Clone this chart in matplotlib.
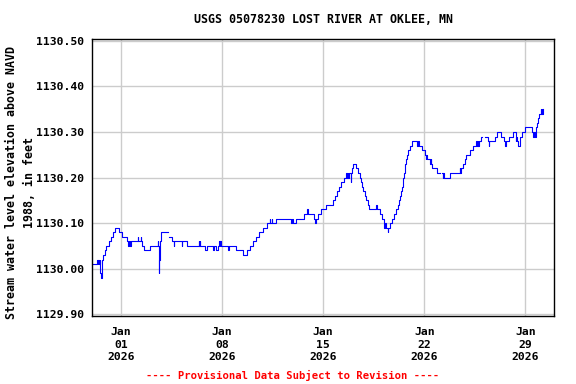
import matplotlib

matplotlib.use("Agg")
import matplotlib.pyplot as plt
import numpy as np
import pandas as pd

# gage height readings, days after 2026-01-01 00:00 (NaN = gap in record)
day_offset = [
    -1.97, -1.69, -1.62, -1.57, -1.52, -1.48, -1.43, -1.39, -1.33, -1.23,
    -1.14, -1.04, -0.86, -0.67, -0.58, -0.39, -0.12, 0.07, 0.44, 0.50,
    0.55, 0.60, 0.66, 1.17, 1.20, 1.35, 1.38, 1.44, 1.60, 2.02,
    2.53, 2.57, 2.60, 2.64, 2.71, 2.78, 3.25, 3.29, 3.53, 3.66,
    3.69, 4.21, 4.24, 4.57, 5.38, 5.42, 5.46, 5.50, 5.85, 5.96,
    6.37, 6.46, 6.60, 6.71, 6.78, 6.83, 6.88, 6.93, 7.41, 7.45,
    7.93, 8.44, 8.70, 8.93, 9.16, 9.32, 9.56, 9.86, 10.09, 10.29,
    10.32, 10.45, 10.48, 10.72, 11.76, 11.86, 11.90, 12.11, 12.69, 12.90,
    12.94, 13.38, 13.45, 13.48, 13.62, 13.85, 14.18, 14.68, 14.80, 14.96,
    15.10, 15.26, 15.42, 15.61, 15.65, 15.70, 15.75, 15.80, 15.93, 15.96,
    16.00, 16.07, 16.30, 16.41, 16.53, 16.65, 16.70, 16.76, 16.88, 16.99,
    17.11, 17.18, 17.68, 17.71, 17.92, 18.10, 18.19, 18.25, 18.28, 18.33,
    18.48, 18.51, 18.61, 18.75, 18.89, 19.02, 19.16, 19.25, 19.35, 19.42,
    19.47, 19.51, 19.55, 19.60, 19.65, 19.70, 19.76, 19.81, 19.88, 19.99,
    20.15, 20.50, 20.60, 20.63, 20.87, 21.03, 21.10, 21.14, 21.20, 21.42,
    21.47, 21.50, 21.56, 21.89, 22.07, 22.26, 22.30, 22.33, 22.35, 22.81,
    23.45, 23.49, 23.52, 23.69, 23.80, 23.92, 24.08, 24.20, 24.40, 24.61,
    24.66, 24.70, 24.74, 24.78, 24.96, 25.00, 25.19, 25.42, 25.48, 25.52,
    25.88, 26.04, 26.34, 26.50, 26.60, 26.64, 26.87, 27.15, 27.33, 27.38,
    27.42, 27.50, 27.66, 27.80, 27.96, 28.49, 28.55, 28.60, 28.65, 28.72,
    28.80, 28.86, 28.95, 29.08, 29.12, 29.15, 29.18, 29.22,
]
elevation_ft = [
    1130.01, 1130.02, 1130.01, 1130.02, 1130.01, 1130.02, 1129.99, 1129.98, 1130.02, 1130.03,
    1130.04, 1130.05, 1130.06, 1130.07, 1130.08, 1130.09, 1130.08, 1130.07, 1130.06, 1130.05,
    1130.06, 1130.05, 1130.06, 1130.07, 1130.06, 1130.07, 1130.06, 1130.05, 1130.04, 1130.05,
    1130.06, 1130.05, 1129.99, 1130.02, 1130.06, 1130.08, np.nan, 1130.07, 1130.06, 1130.05,
    1130.06, 1130.05, 1130.06, 1130.05, 1130.06, 1130.05, 1130.06, 1130.05, 1130.04, 1130.05,
    1130.04, 1130.05, 1130.04, 1130.05, 1130.06, 1130.05, 1130.06, 1130.05, 1130.04, 1130.05,
    1130.04, 1130.03, 1130.04, 1130.05, 1130.06, 1130.07, 1130.08, 1130.09, 1130.10, 1130.11,
    1130.10, 1130.11, 1130.10, 1130.11, 1130.10, 1130.11, 1130.10, 1130.11, 1130.12, 1130.13,
    1130.12, 1130.11, 1130.10, 1130.11, 1130.12, 1130.13, 1130.14, 1130.15, 1130.16, 1130.17,
    1130.18, 1130.19, 1130.20, 1130.21, 1130.20, 1130.21, 1130.20, 1130.21, 1130.19, 1130.21,
    1130.22, 1130.23, 1130.22, 1130.21, 1130.20, 1130.19, 1130.18, 1130.17, 1130.16, 1130.15,
    1130.14, 1130.13, 1130.14, 1130.13, 1130.12, 1130.11, 1130.10, 1130.09, 1130.10, 1130.09,
    1130.08, 1130.09, 1130.10, 1130.11, 1130.12, 1130.13, 1130.14, 1130.15, 1130.16, 1130.17,
    1130.18, 1130.19, 1130.20, 1130.21, 1130.22, 1130.23, 1130.24, 1130.25, 1130.26, 1130.27,
    1130.28, 1130.27, 1130.28, 1130.27, 1130.26, 1130.25, 1130.24, 1130.25, 1130.24, 1130.23,
    1130.24, 1130.23, 1130.22, 1130.21, np.nan, 1130.21, 1130.20, 1130.21, 1130.20, 1130.21,
    1130.22, 1130.21, 1130.22, 1130.23, 1130.24, 1130.25, 1130.25, 1130.26, 1130.27, 1130.28,
    1130.27, 1130.28, 1130.27, 1130.28, 1130.29, np.nan, 1130.29, 1130.28, 1130.27, 1130.28,
    1130.29, 1130.30, 1130.29, 1130.28, 1130.27, 1130.28, 1130.29, 1130.30, 1130.28, 1130.29,
    1130.28, 1130.27, 1130.29, 1130.30, 1130.31, 1130.30, 1130.29, 1130.30, 1130.29, 1130.31,
    1130.32, 1130.33, 1130.34, 1130.35, 1130.34, 1130.35, 1130.34, 1130.35,
]

y_ticks = [1129.90, 1130.00, 1130.10, 1130.20, 1130.30, 1130.40, 1130.50]
x_tick_dates = ["2026-01-01", "2026-01-08", "2026-01-15", "2026-01-22", "2026-01-29"]
x_range = ["2025-12-30", "2026-01-31"]

start = pd.Timestamp("2026-01-01")
times = start + pd.to_timedelta(day_offset, unit="D")

mono = "DejaVu Sans Mono"
fig = plt.figure(figsize=(5.76, 3.84), dpi=100)
ax = fig.add_axes([0.160, 0.178, 0.802, 0.720])

ax.plot(times, elevation_ft, color="#0000ff", linewidth=0.8, drawstyle="steps-post")

ax.set_xlim(pd.Timestamp(x_range[0]), pd.Timestamp(x_range[1]))
ax.set_ylim(1129.897, 1130.5037)
ax.set_yticks(y_ticks)
ax.set_yticklabels([f"{v:.2f}" for v in y_ticks], family=mono, weight="bold", fontsize=8.2)
tick_times = [pd.Timestamp(t) for t in x_tick_dates]
ax.set_xticks(tick_times)
ax.set_xticklabels([t.strftime("%b\n%d\n%Y") for t in tick_times],
                   family=mono, weight="bold", fontsize=8.2, linespacing=1.35)
ax.tick_params(axis="x", length=0, pad=8)
ax.tick_params(axis="y", length=0, pad=6)
ax.grid(True, color="#cccccc", linewidth=1.0)
ax.set_axisbelow(True)
for spine in ax.spines.values():
    spine.set_linewidth(1.0)

ax.set_ylabel("Stream water level elevation above NAVD\n1988, in feet",
              family=mono, weight="bold", fontsize=8.4, linespacing=1.55, labelpad=6)
ax.yaxis.set_label_coords(-0.121, 0.48)
ax.set_title("USGS 05078230 LOST RIVER AT OKLEE, MN",
             family=mono, weight="bold", fontsize=8.4, pad=12)
fig.text(0.508, 0.014, "---- Provisional Data Subject to Revision ----",
         color="red", family=mono, weight="bold", fontsize=7.6, ha="center")

fig.savefig("out.png", dpi=100)
